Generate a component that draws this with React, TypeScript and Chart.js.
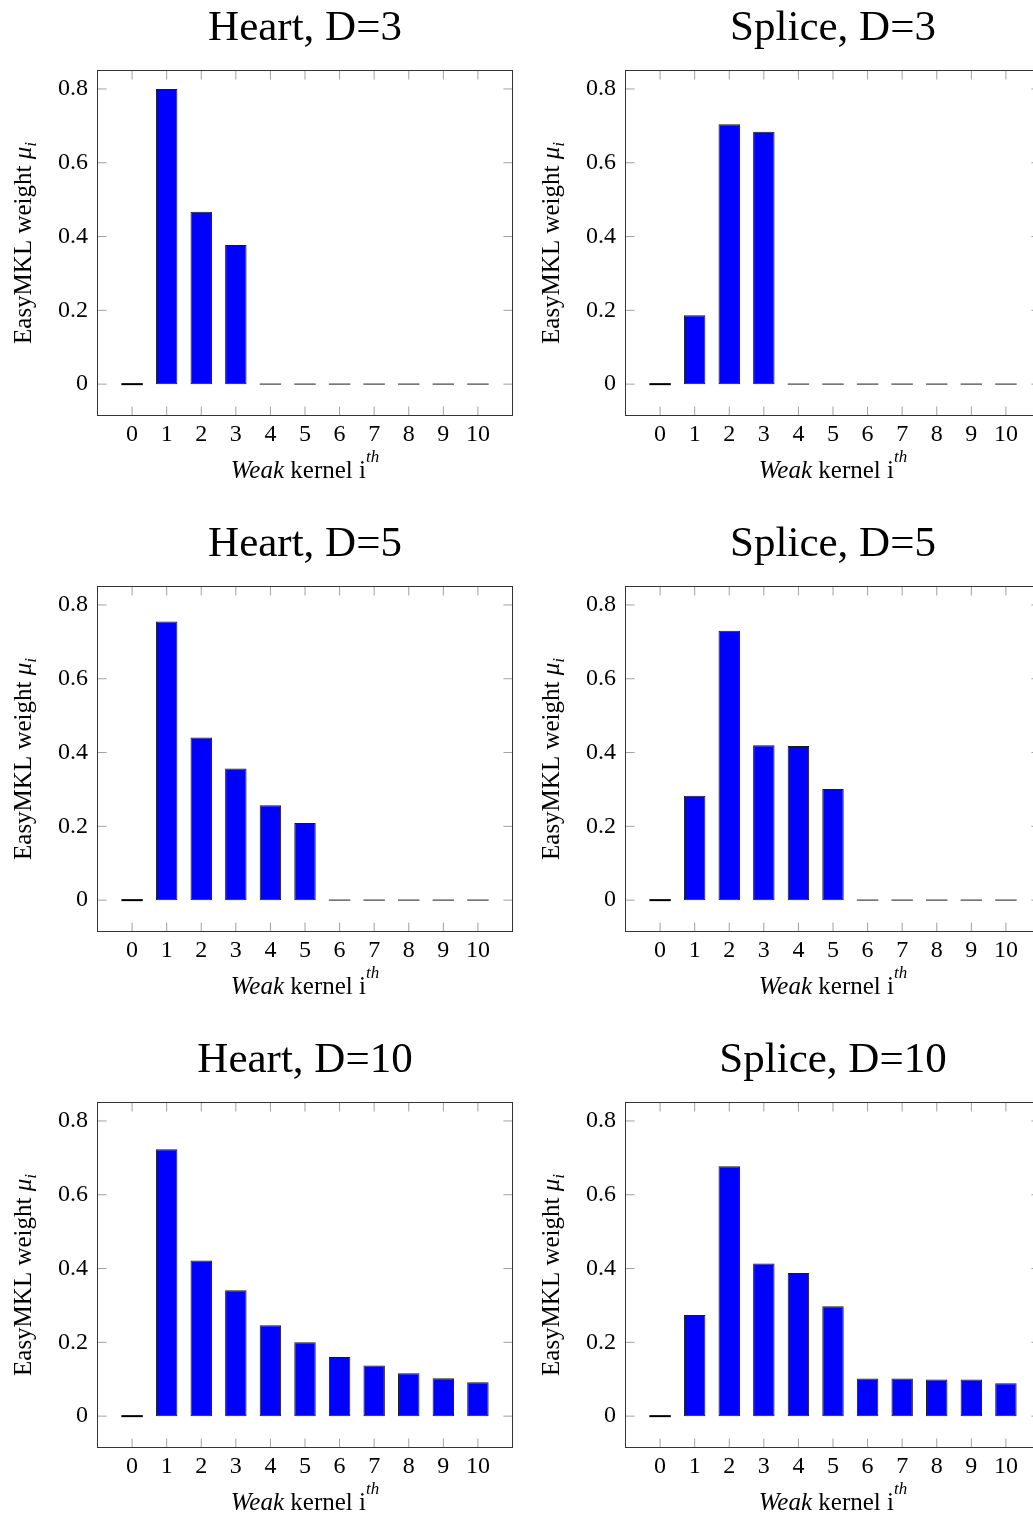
import React, { useEffect, useRef } from "react";
import { Chart, registerables } from "chart.js";

Chart.register(...registerables);

// ---------- data ----------
const KERNELS = [0, 1, 2, 3, 4, 5, 6, 7, 8, 9, 10];
const Y_TICKS = [0, 0.2, 0.4, 0.6, 0.8];

const HEART_D3 = [0, 0.8, 0.467, 0.377, 0, 0, 0, 0, 0, 0, 0];
const SPLICE_D3 = [0, 0.187, 0.704, 0.684, 0, 0, 0, 0, 0, 0, 0];
const HEART_D5 = [0, 0.755, 0.441, 0.357, 0.257, 0.209, 0, 0, 0, 0, 0];
const SPLICE_D5 = [0, 0.283, 0.73, 0.42, 0.418, 0.301, 0, 0, 0, 0, 0];
const HEART_D10 = [0, 0.723, 0.422, 0.341, 0.246, 0.2, 0.16, 0.137, 0.116, 0.103, 0.092];
const SPLICE_D10 = [0, 0.274, 0.677, 0.414, 0.388, 0.298, 0.102, 0.102, 0.099, 0.099, 0.089];

const TITLES = ["Heart, D=3", "Splice, D=3", "Heart, D=5", "Splice, D=5", "Heart, D=10", "Splice, D=10"];
const SERIES = [HEART_D3, SPLICE_D3, HEART_D5, SPLICE_D5, HEART_D10, SPLICE_D10];

const X_TITLE = [
  { text: "Weak", italic: true },
  { text: " kernel i" },
  { text: "th", italic: true, sup: true },
];
const Y_TITLE = [
  { text: "EasyMKL weight " },
  { text: "μ", italic: true },
  { text: "i", italic: true, sub: true },
];

// ---------- layout ----------
const SERIF = "Liberation Serif";
const CANVAS_W = 520;
const CANVAS_H = 500;
const PLOT_LEFT = 97.5;
const PLOT_RIGHT = 512.5;
const PLOT_TOP = 70.5;
const PLOT_BOTTOM = 415.5;
const COL_LEFT = [0, 528];
const ROW_TOP = [0, 516, 1032];
const TITLE_SIZE = 43;
const TICK_SIZE = 24;
const LABEL_SIZE = 25;
const TICK_LEN = 9;

type Seg = { text: string; italic?: boolean; sup?: boolean; sub?: boolean };

function segFont(s: Seg, size: number) {
  const sz = s.sup || s.sub ? Math.round(size * 0.68) : size;
  return `${s.italic ? "italic " : "normal "}normal ${sz}px "${SERIF}"`;
}

function drawRich(ctx: CanvasRenderingContext2D, segs: Seg[], size: number) {
  const widths = segs.map((s) => {
    ctx.font = segFont(s, size);
    return ctx.measureText(s.text).width;
  });
  const total = widths.reduce((a, b) => a + b, 0);
  let x = -total / 2;
  ctx.textAlign = "left";
  ctx.textBaseline = "alphabetic";
  ctx.fillStyle = "#000";
  segs.forEach((s, i) => {
    ctx.font = segFont(s, size);
    const dy = s.sup ? -16 : s.sub ? 5 : 0;
    ctx.fillText(s.text, x, dy);
    x += widths[i];
  });
}

const framePlugin = {
  id: "frame",
  afterDatasetsDraw(chart: any) {
    const { ctx, chartArea, scales } = chart;
    const { left, right, top, bottom } = chartArea;
    ctx.save();
    ctx.strokeStyle = "#a0a0a0";
    ctx.lineWidth = 1;
    ctx.beginPath();
    KERNELS.forEach((k) => {
      const px = scales.x.getPixelForValue(k);
      ctx.moveTo(px, bottom);
      ctx.lineTo(px, bottom - TICK_LEN);
      ctx.moveTo(px, top);
      ctx.lineTo(px, top + TICK_LEN);
    });
    Y_TICKS.forEach((v) => {
      const py = scales.y.getPixelForValue(v);
      ctx.moveTo(left, py);
      ctx.lineTo(left + TICK_LEN, py);
      ctx.moveTo(right, py);
      ctx.lineTo(right - TICK_LEN, py);
    });
    ctx.stroke();
    ctx.strokeStyle = "#333";
    ctx.strokeRect(left, top, right - left, bottom - top);
    ctx.restore();
  },
};

const zeroBarPlugin = {
  id: "zeroBars",
  afterDatasetsDraw(chart: any) {
    const { ctx } = chart;
    const meta = chart.getDatasetMeta(0);
    const ds = chart.data.datasets[0].data as { x: number; y: number }[];
    ctx.save();
    meta.data.forEach((el: any, i: number) => {
      if (ds[i].y !== 0) return;
      const { x, y, width } = el.getProps(["x", "y", "width"], true);
      ctx.beginPath();
      ctx.strokeStyle = i === 0 ? "#000" : "#666";
      ctx.lineWidth = i === 0 ? 2 : 1.5;
      ctx.moveTo(x - width / 2, y);
      ctx.lineTo(x + width / 2, y);
      ctx.stroke();
    });
    ctx.restore();
  },
};

const axisTitlePlugin = {
  id: "axisTitles",
  afterDraw(chart: any) {
    const { ctx, chartArea } = chart;
    const { left, right, top, bottom } = chartArea;
    ctx.save();
    ctx.translate((left + right) / 2, bottom + 62.5);
    drawRich(ctx, X_TITLE, LABEL_SIZE);
    ctx.restore();
    ctx.save();
    ctx.translate(30.5, (top + bottom) / 2);
    ctx.rotate(-Math.PI / 2);
    drawRich(ctx, Y_TITLE, LABEL_SIZE);
    ctx.restore();
  },
};

function makeConfig(title: string, values: number[]): any {
  const titleLine = TITLE_SIZE * 1.2;
  const titleTopPad = 3.2;
  return {
    type: "bar",
    data: {
      datasets: [
        {
          data: KERNELS.map((k, i) => ({ x: k, y: values[i] })),
          backgroundColor: "#0000ff",
          borderColor: "#1a1a1a",
          borderWidth: 1,
          borderSkipped: false,
          barPercentage: 0.62,
          categoryPercentage: 1,
        },
      ],
    },
    options: {
      responsive: false,
      animation: false,
      devicePixelRatio: 1,
      font: { family: SERIF },
      layout: { padding: { left: 0, right: CANVAS_W - PLOT_RIGHT, top: 0, bottom: 0 } },
      plugins: {
        legend: { display: false },
        tooltip: { enabled: false },
        title: {
          display: true,
          text: title,
          fullSize: false,
          color: "#000",
          font: { family: SERIF, size: TITLE_SIZE, weight: "normal", style: "normal", lineHeight: 1.2 },
          padding: { top: titleTopPad, bottom: PLOT_TOP - titleTopPad - titleLine },
        },
      },
      scales: {
        x: {
          type: "linear",
          min: -1,
          max: 11,
          offset: false,
          grid: { display: false, drawTicks: false, offset: false },
          border: { display: false },
          afterBuildTicks: (s: any) => {
            s.ticks = KERNELS.map((v) => ({ value: v }));
          },
          afterFit: (s: any) => {
            s.height = CANVAS_H - PLOT_BOTTOM;
          },
          ticks: {
            padding: 5,
            color: "#000",
            autoSkip: false,
            maxRotation: 0,
            font: { family: SERIF, size: TICK_SIZE, weight: "normal", style: "normal" },
            callback: (v: number) => String(v),
          },
        },
        y: {
          type: "linear",
          min: -0.085,
          max: 0.85,
          grid: { display: false, drawTicks: false },
          border: { display: false },
          afterBuildTicks: (s: any) => {
            s.ticks = Y_TICKS.map((v) => ({ value: v }));
          },
          afterFit: (s: any) => {
            s.width = PLOT_LEFT;
          },
          ticks: {
            padding: 9.5,
            color: "#000",
            font: { family: SERIF, size: TICK_SIZE, weight: "normal", style: "normal" },
            callback: (v: number) => String(Math.round(v * 10) / 10),
          },
        },
      },
    },
    plugins: [framePlugin, zeroBarPlugin, axisTitlePlugin],
  };
}

function Panel({ title, values, left, top }: { title: string; values: number[]; left: number; top: number }) {
  const ref = useRef<HTMLCanvasElement>(null);
  useEffect(() => {
    let chart: Chart | null = null;
    let cancelled = false;
    const build = () => {
      if (cancelled || !ref.current) return;
      chart = new Chart(ref.current, makeConfig(title, values));
    };
    const fonts = (document as any).fonts;
    if (fonts && fonts.load) {
      Promise.all([
        fonts.load(`24px "${SERIF}"`),
        fonts.load(`italic 24px "${SERIF}"`),
      ]).then(build, build);
    } else {
      build();
    }
    return () => {
      cancelled = true;
      if (chart) chart.destroy();
    };
  }, [title, values]);
  return (
    <canvas
      ref={ref}
      width={CANVAS_W}
      height={CANVAS_H}
      style={{ position: "absolute", left, top, width: CANVAS_W, height: CANVAS_H }}
    />
  );
}

export default function App() {
  useEffect(() => {
    document.body.style.margin = "0";
  }, []);
  return (
    <div style={{ position: "relative", width: 1033, height: 1515, overflow: "hidden", background: "#fff" }}>
      {TITLES.map((t, i) => (
        <Panel key={t} title={t} values={SERIES[i]} left={COL_LEFT[i % 2]} top={ROW_TOP[Math.floor(i / 2)]} />
      ))}
    </div>
  );
}
